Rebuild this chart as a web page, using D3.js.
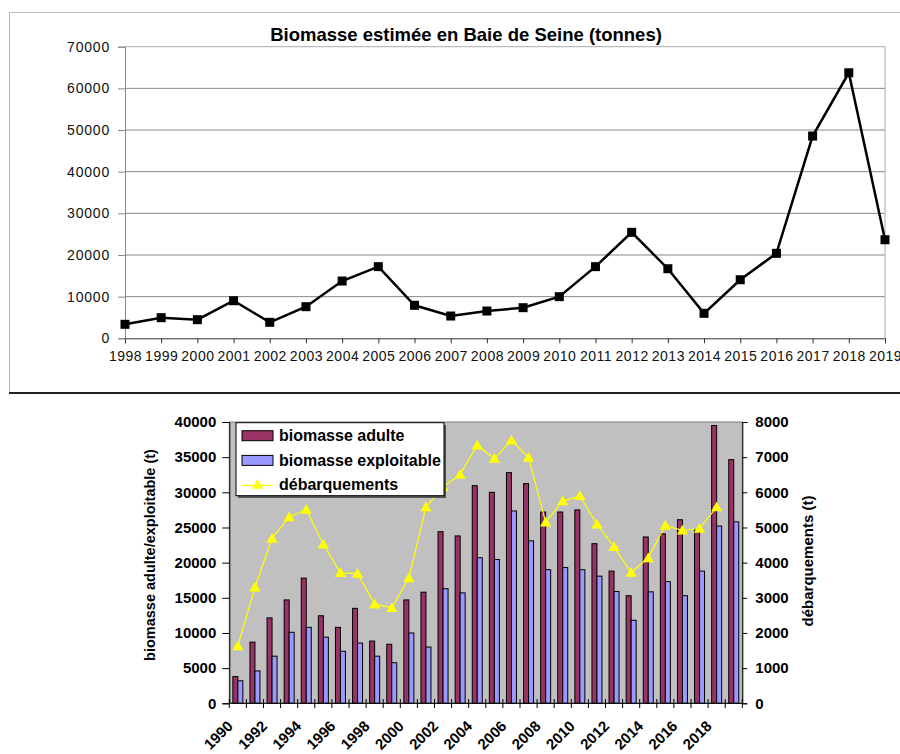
<!DOCTYPE html>
<html>
<head>
<meta charset="utf-8">
<script src="https://cdn.jsdelivr.net/npm/d3@7"></script>
<style>
  body { margin: 0; background: #fff; }
  svg { display: block; font-family: Arial, "Liberation Sans", sans-serif; }
</style>
</head>
<body>
<div id="chart"></div>
<script>
(function(d3){
  'use strict';

  // --- top chart data ---
  var topYears = d3.range(1998, 2020).map(String);
  var biomasseEstimee = [3360, 4950, 4470, 9020, 3840, 7590, 13750, 17200, 7920, 5350,
    6550, 7350, 9990, 17200, 25440, 16700, 6000, 14060, 20400, 48550, 63740, 23660];
  var topTicks = [0, 10000, 20000, 30000, 40000, 50000, 60000, 70000];

  // --- bottom chart data ---
  var years = d3.range(1990, 2020).map(String);
  var biomasseAdulte = [3800, 8700, 12150, 14700, 17800, 12450, 10800, 13500, 8850, 8400,
    14700, 15800, 24400, 23800, 30950, 30000, 32800, 31240, 27200, 27200,
    27500, 22700, 18800, 15300, 23650, 24100, 26100, 24750, 39500, 34650];
  var biomasseExploitable = [3200, 4600, 6700, 10100, 10800, 9400, 7400, 8560, 6700, 5770,
    10000, 8000, 16300, 15700, 20700, 20450, 27350, 23100, 19000, 19300,
    19000, 18080, 15900, 11800, 15850, 17300, 15300, 18800, 25200, 25800];
  var debarquements = [1630, 3300, 4690, 5300, 5510, 4525, 3710, 3690, 2820, 2715,
    3560, 5580, 6150, 6510, 7340, 6960, 7480, 6990, 5150, 5750,
    5900, 5090, 4450, 3720, 4135, 5060, 4920, 4970, 5580, null];
  var leftTicks = d3.range(0, 40001, 5000);
  var rightTicks = d3.range(0, 8001, 1000);
  var legendItems = ['biomasse adulte', 'biomasse exploitable', 'débarquements'];

  var svg = d3.select('#chart').append('svg')
    .attr('width', 900).attr('height', 754);

  // ================= TOP CHART =================
  var top = svg.append('g');

  top.append('rect')
    .attr('x', 9.5).attr('y', 12.5)
    .attr('width', 900).attr('height', 380)
    .attr('fill', '#fff').attr('stroke', '#bbb');
  top.append('line')
    .attr('x1', 9).attr('x2', 900)
    .attr('y1', 393).attr('y2', 393)
    .attr('stroke', '#222').attr('stroke-width', 2);

  var tx = d3.scalePoint().domain(topYears).range([125, 885]);
  var ty = d3.scaleLinear().domain([0, 70000]).range([338.3, 46.7]);

  top.append('text')
    .attr('x', 466).attr('y', 41)
    .attr('text-anchor', 'middle')
    .attr('font-size', 18.5).attr('font-weight', 'bold')
    .text('Biomasse estimée en Baie de Seine (tonnes)');

  // grid
  top.append('g').selectAll('line')
    .data(topTicks.slice(1))
    .enter().append('line')
    .attr('x1', 125).attr('x2', 885)
    .attr('y1', function(d){ return ty(d); })
    .attr('y2', function(d){ return ty(d); })
    .attr('stroke', function(d){ return d === 70000 ? '#aaa' : '#888'; });
  top.append('line')
    .attr('x1', 885).attr('x2', 885)
    .attr('y1', ty(70000)).attr('y2', ty(0))
    .attr('stroke', '#aaa');

  var tyAxis = top.append('g')
    .attr('transform', 'translate(125,0)')
    .call(d3.axisLeft(ty).tickValues(topTicks).tickSize(7).tickPadding(8).tickFormat(d3.format('d')));
  tyAxis.select('.domain').attr('stroke', '#888');
  tyAxis.selectAll('.tick line').attr('stroke', '#888');
  tyAxis.selectAll('text').attr('font-size', 14).attr('fill', '#111')
    .attr('font-family', 'Arial, "Liberation Sans", sans-serif')
    .attr('letter-spacing', 0.8);

  var txAxis = top.append('g')
    .attr('transform', 'translate(0,338.3)')
    .call(d3.axisBottom(tx).tickSize(5).tickPadding(8));
  txAxis.select('.domain').attr('stroke', '#333');
  txAxis.selectAll('.tick line').attr('stroke', '#333');
  txAxis.selectAll('text').attr('font-size', 14).attr('fill', '#111')
    .attr('font-family', 'Arial, "Liberation Sans", sans-serif')
    .attr('letter-spacing', 0.5);

  var topLine = d3.line()
    .x(function(d, i){ return tx(topYears[i]); })
    .y(function(d){ return ty(d); });

  top.append('path')
    .datum(biomasseEstimee)
    .attr('d', topLine)
    .attr('fill', 'none').attr('stroke', '#000').attr('stroke-width', 2.5);

  top.append('g').selectAll('rect')
    .data(biomasseEstimee)
    .enter().append('rect')
    .attr('x', function(d, i){ return tx(topYears[i]) - 4.5; })
    .attr('y', function(d){ return ty(d) - 4.5; })
    .attr('width', 9).attr('height', 9)
    .attr('fill', '#000');

  // ================= BOTTOM CHART =================
  var bot = svg.append('g');
  var x = d3.scaleBand().domain(years).range([229.3, 742.3]);
  var yl = d3.scaleLinear().domain([0, 40000]).range([703.3, 422]);
  var yr = d3.scaleLinear().domain([0, 8000]).range([703.3, 422]);

  bot.append('rect')
    .attr('x', 229.3).attr('y', 422)
    .attr('width', 513).attr('height', 281.3)
    .attr('fill', '#c0c0c0').attr('stroke', '#808080');

  var barW = 5;
  bot.append('g').selectAll('rect')
    .data(biomasseAdulte)
    .enter().append('rect')
    .attr('x', function(d, i){ return x(years[i]) + x.bandwidth() / 2 - barW; })
    .attr('y', function(d){ return yl(d); })
    .attr('width', barW)
    .attr('height', function(d){ return yl(0) - yl(d); })
    .attr('fill', '#993366').attr('stroke', '#000').attr('stroke-width', 1);

  bot.append('g').selectAll('rect')
    .data(biomasseExploitable)
    .enter().append('rect')
    .attr('x', function(d, i){ return x(years[i]) + x.bandwidth() / 2; })
    .attr('y', function(d){ return yl(d); })
    .attr('width', barW)
    .attr('height', function(d){ return yl(0) - yl(d); })
    .attr('fill', '#9999ff').attr('stroke', '#000').attr('stroke-width', 1);

  var debLine = d3.line()
    .defined(function(d){ return d !== null; })
    .x(function(d, i){ return x(years[i]) + x.bandwidth() / 2; })
    .y(function(d){ return yr(d); });

  bot.append('path')
    .datum(debarquements)
    .attr('d', debLine)
    .attr('fill', 'none').attr('stroke', '#ffff00').attr('stroke-width', 1.2);

  var tri = d3.symbol().type(d3.symbolTriangle).size(55);
  bot.append('g').selectAll('path')
    .data(debarquements.map(function(d, i){ return {v: d, year: years[i]}; })
      .filter(function(d){ return d.v !== null; }))
    .enter().append('path')
    .attr('d', tri)
    .attr('transform', function(d){
      return 'translate(' + (x(d.year) + x.bandwidth() / 2) + ',' + (yr(d.v) + 1) + ')';
    })
    .attr('fill', '#ffff00');

  // axes
  var ylAxis = bot.append('g')
    .attr('transform', 'translate(229.3,0)')
    .call(d3.axisLeft(yl).tickValues(leftTicks).tickSize(7).tickPadding(6).tickFormat(d3.format('d')));
  ylAxis.selectAll('text').attr('font-size', 15).attr('font-weight', 'bold').attr('fill', '#000')
    .attr('font-family', 'Arial, "Liberation Sans", sans-serif');

  var yrAxis = bot.append('g')
    .attr('transform', 'translate(742.3,0)')
    .call(d3.axisRight(yr).tickValues(rightTicks).tickSize(5).tickPadding(8).tickFormat(d3.format('d')));
  yrAxis.selectAll('text').attr('font-size', 15).attr('font-weight', 'bold').attr('fill', '#000')
    .attr('font-family', 'Arial, "Liberation Sans", sans-serif');

  // x axis: ticks at category boundaries, labels every other year
  var xAxisG = bot.append('g');
  xAxisG.append('line')
    .attr('x1', 229.3).attr('x2', 742.3)
    .attr('y1', 703.3).attr('y2', 703.3)
    .attr('stroke', '#000');
  xAxisG.selectAll('line.tk')
    .data(years.concat(['end']))
    .enter().append('line')
    .attr('class', 'tk')
    .attr('x1', function(d, i){ return 229.3 + i * x.step(); })
    .attr('x2', function(d, i){ return 229.3 + i * x.step(); })
    .attr('y1', 699).attr('y2', 708)
    .attr('stroke', '#000');
  xAxisG.selectAll('text')
    .data(years.filter(function(d, i){ return i % 2 === 0; }))
    .enter().append('text')
    .attr('text-anchor', 'end')
    .attr('font-size', 15).attr('font-weight', 'bold')
    .attr('transform', function(d){
      return 'translate(' + (x(d) + x.bandwidth() / 2 - 4) + ',727) rotate(-45)';
    })
    .text(function(d){ return d; });

  // axis titles
  bot.append('text')
    .attr('transform', 'translate(155,555) rotate(-90)')
    .attr('text-anchor', 'middle')
    .attr('font-size', 14.5).attr('font-weight', 'bold')
    .text('biomasse adulte/exploitable (t)');
  bot.append('text')
    .attr('transform', 'translate(813,561) rotate(-90)')
    .attr('text-anchor', 'middle')
    .attr('font-size', 15).attr('font-weight', 'bold')
    .text('débarquements (t)');

  // legend
  var lg = bot.append('g');
  lg.append('rect')
    .attr('x', 238).attr('y', 425)
    .attr('width', 208).attr('height', 73)
    .attr('fill', '#555');
  lg.append('rect')
    .attr('x', 236).attr('y', 422.7)
    .attr('width', 208).attr('height', 73)
    .attr('fill', '#fff').attr('stroke', '#000');
  var li = lg.selectAll('g.item')
    .data(legendItems)
    .enter().append('g')
    .attr('class', 'item')
    .attr('transform', function(d, i){ return 'translate(0,' + (i * 24.7) + ')'; });
  li.append('text')
    .attr('x', 279).attr('y', 441)
    .attr('font-size', 16).attr('font-weight', 'bold')
    .text(function(d){ return d; });
  li.filter(function(d, i){ return i < 2; })
    .append('rect')
    .attr('x', 242).attr('y', 430.7)
    .attr('width', 31).attr('height', 10)
    .attr('fill', function(d, i){ return i === 0 ? '#993366' : '#9999ff'; })
    .attr('stroke', '#000');
  var li3 = li.filter(function(d, i){ return i === 2; });
  li3.append('line')
    .attr('x1', 242).attr('x2', 273)
    .attr('y1', 436).attr('y2', 436)
    .attr('stroke', '#ffff00').attr('stroke-width', 1.2);
  li3.append('path')
    .attr('d', tri)
    .attr('transform', 'translate(257.5,436)')
    .attr('fill', '#ffff00');

})(window.d3);
</script>
</body>
</html>
